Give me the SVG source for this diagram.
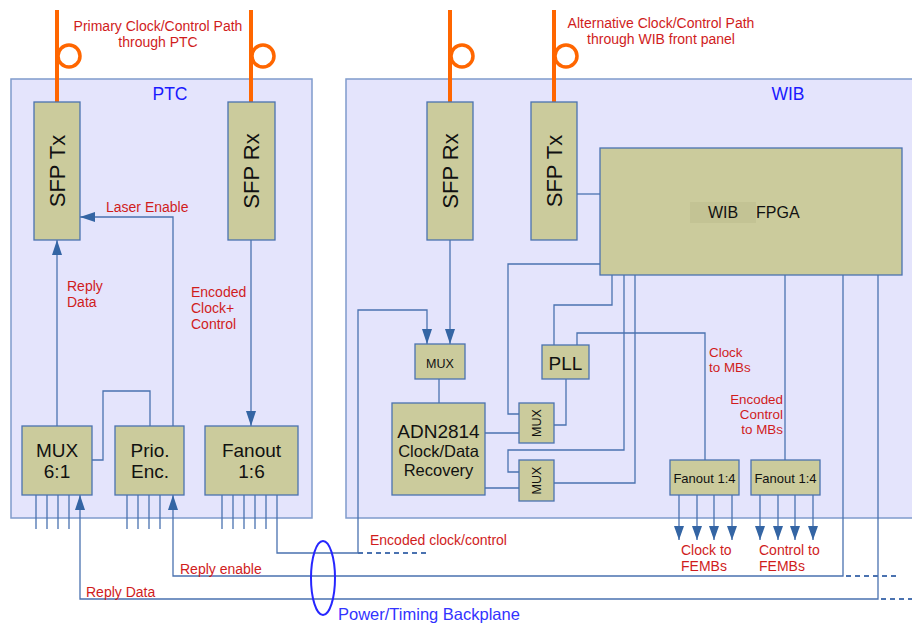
<svg xmlns="http://www.w3.org/2000/svg" width="912" height="626" viewBox="0 0 912 626">
<style>
.panel{fill:#e4e4fc;stroke:#7f9bcc;stroke-width:1.5}
.box{fill:#cbcb9c;stroke:#4a72b0;stroke-width:1.3}
.ln{fill:none;stroke:#4a72b0;stroke-width:1.3}
.dash{fill:none;stroke:#4a72b0;stroke-width:2;stroke-dasharray:5,4}
.fib{fill:none;stroke:#ff6600;stroke-width:4}
.loop{fill:none;stroke:#ff6600;stroke-width:3.5}
.red{font-family:"Liberation Sans",Arial,sans-serif;font-size:14px;fill:#d01c1c}
.sm{font-size:13.4px}
.mid{text-anchor:middle}
.end{text-anchor:end}
.blue{font-family:"Liberation Sans",Arial,sans-serif;font-size:17.5px;fill:#1a1aff;text-anchor:middle}
.t{font-family:"Liberation Sans",Arial,sans-serif;fill:#111;text-anchor:middle}
.ts{font-family:"Liberation Sans",Arial,sans-serif;fill:#111;text-anchor:start}
</style>
<defs>
<marker id="ah" markerUnits="userSpaceOnUse" markerWidth="15" markerHeight="10" refX="15" refY="5" orient="auto">
<path d="M0,0 L15,5 L0,10 z" fill="#3465a4"/>
</marker>
</defs>

<g id="panels">
<rect class="panel" x="11" y="79" width="301" height="439"/>
<rect class="panel" x="346" y="79" width="580" height="439"/>
<text class="blue" x="170" y="99.5">PTC</text>
<text class="blue" x="788" y="99.5">WIB</text>
</g>

<g id="fibers">
<line class="fib" x1="57" y1="10" x2="57" y2="102"/>
<circle class="loop" cx="69" cy="56" r="11"/>
<line class="fib" x1="251" y1="10" x2="251" y2="102"/>
<circle class="loop" cx="263" cy="56" r="11"/>
<line class="fib" x1="450" y1="10" x2="450" y2="102"/>
<circle class="loop" cx="462" cy="56" r="11"/>
<line class="fib" x1="554" y1="10" x2="554" y2="102"/>
<circle class="loop" cx="566" cy="56" r="11"/>
<text class="red mid" x="158" y="31">Primary Clock/Control Path</text>
<text class="red mid" x="158" y="47">through PTC</text>
<text class="red mid" x="661" y="28">Alternative Clock/Control Path</text>
<text class="red mid" x="661" y="44">through WIB front panel</text>
</g>

<g id="connectors">
<line class="ln" x1="57" y1="426" x2="57" y2="240" marker-end="url(#ah)"/>
<polyline class="ln" points="173,426 173,217 80,217" marker-end="url(#ah)"/>
<line class="ln" x1="251" y1="240" x2="251" y2="426" marker-end="url(#ah)"/>
<polyline class="ln" points="92,460 103,460 103,391 150,391 150,426"/>
<path class="ln" d="M36,495V529M47,495V529M58,495V529M69,495V529M127,495V529M138,495V529M149,495V529M160,495V529M222,495V529M233,495V529M244,495V529M255,495V529M266,495V529"/>
<polyline class="ln" points="277,495 277,553 358,553"/>
<polyline class="ln" points="878,275 878,599 80,599 80,495" marker-end="url(#ah)"/>
<polyline class="ln" points="843,275 843,576 173,576 173,495" marker-end="url(#ah)"/>
<line class="dash" x1="358" y1="553" x2="427" y2="553"/>
<line class="dash" x1="846" y1="576" x2="899" y2="576"/>
<line class="dash" x1="881" y1="599" x2="912" y2="599"/>
<polyline class="ln" points="358,553 358,310 427,310 427,344" marker-end="url(#ah)"/>
<line class="ln" x1="450" y1="240" x2="450" y2="344" marker-end="url(#ah)"/>
<line class="ln" x1="577" y1="194" x2="600" y2="194"/>
<line class="ln" x1="439" y1="379" x2="439" y2="403"/>
<line class="ln" x1="485" y1="433" x2="519" y2="433"/>
<line class="ln" x1="485" y1="488" x2="519" y2="488"/>
<polyline class="ln" points="600,264 508,264 508,414 519,414"/>
<polyline class="ln" points="566,379 566,425 554,425"/>
<polyline class="ln" points="554,345 554,305 612,305 612,275"/>
<polyline class="ln" points="577,345 577,333 705,333 705,460"/>
<polyline class="ln" points="624,275 624,450 508,450 508,472 519,472"/>
<polyline class="ln" points="554,483 635,483 635,275"/>
<line class="ln" x1="785" y1="275" x2="785" y2="460"/>
<path class="ln" d="M679,495V540M697,495V540M714,495V540M732,495V540M760,495V540M778,495V540M795,495V540M813,495V540"/>
<g fill="#3465a4">
<path d="M674,526h10l-5,14z"/><path d="M692,526h10l-5,14z"/><path d="M709,526h10l-5,14z"/><path d="M727,526h10l-5,14z"/>
<path d="M755,526h10l-5,14z"/><path d="M773,526h10l-5,14z"/><path d="M790,526h10l-5,14z"/><path d="M808,526h10l-5,14z"/>
</g>
<ellipse cx="323" cy="578" rx="12" ry="37" fill="none" stroke="#2626ff" stroke-width="2"/>
<text class="red" x="106" y="212">Laser Enable</text>
<text class="red" x="67" y="291">Reply</text>
<text class="red" x="67" y="307">Data</text>
<text class="red" x="191" y="297">Encoded</text>
<text class="red" x="191" y="313">Clock+</text>
<text class="red" x="191" y="328.5">Control</text>
<text class="red" x="180" y="574">Reply enable</text>
<text class="red" x="86" y="597">Reply Data</text>
<text class="red" x="370" y="545">Encoded clock/control</text>
<text class="red sm" x="709" y="356.5">Clock</text>
<text class="red sm" x="709" y="371.5">to MBs</text>
<text class="red sm end" x="783" y="403.5">Encoded</text>
<text class="red sm end" x="783" y="418.5">Control</text>
<text class="red sm end" x="783" y="433.5">to MBs</text>
<text class="red" x="681" y="555">Clock to</text>
<text class="red" x="681" y="571">FEMBs</text>
<text class="red" x="759" y="555">Control to</text>
<text class="red" x="759" y="571">FEMBs</text>
<text x="338" y="620" font-family="Liberation Sans, Arial, sans-serif" font-size="16.5" fill="#3333ff">Power/Timing Backplane</text>
</g>

<g id="ptc-sfp-tx"><rect class="box" x="34" y="102" width="46" height="138"/><text class="t" font-size="22" transform="translate(65,171) rotate(-90)">SFP Tx</text></g>
<g id="ptc-sfp-rx"><rect class="box" x="228" y="102" width="47" height="138"/><text class="t" font-size="22" transform="translate(259,171) rotate(-90)">SFP Rx</text></g>
<g id="ptc-mux"><rect class="box" x="22" y="426" width="70" height="69"/><text class="t" font-size="19" x="57" y="456.5">MUX</text><text class="t" font-size="19" x="57" y="477.5">6:1</text></g>
<g id="ptc-prio"><rect class="box" x="115" y="426" width="69" height="69"/><text class="t" font-size="19" x="150" y="456.5">Prio.</text><text class="t" font-size="19" x="150" y="477.5">Enc.</text></g>
<g id="ptc-fanout"><rect class="box" x="205" y="426" width="93" height="69"/><text class="t" font-size="19" x="251.5" y="456.5">Fanout</text><text class="t" font-size="19" x="251.5" y="477.5">1:6</text></g>

<g id="wib-sfp-rx"><rect class="box" x="427" y="102" width="46" height="138"/><text class="t" font-size="22" transform="translate(458,171) rotate(-90)">SFP Rx</text></g>
<g id="wib-sfp-tx"><rect class="box" x="531" y="102" width="46" height="138"/><text class="t" font-size="22" transform="translate(562,171) rotate(-90)">SFP Tx</text></g>
<g id="wib-fpga"><rect class="box" x="600" y="148" width="302" height="127"/><rect x="690" y="202" width="66" height="21" fill="#c3c394"/><text class="t" font-size="16" x="723" y="218">WIB</text><text class="ts" font-size="16" x="756" y="218">FPGA</text></g>
<g id="wib-mux-in"><rect class="box" x="415" y="344" width="50" height="35"/><text class="t" font-size="12.5" x="440" y="367.5">MUX</text></g>
<g id="adn2814"><rect class="box" x="392" y="403" width="93" height="92"/><text class="t" font-size="19" x="438.5" y="437.5">ADN2814</text><text class="t" font-size="16.5" x="438.5" y="457">Clock/Data</text><text class="t" font-size="16.5" x="438.5" y="476">Recovery</text></g>
<g id="pll"><rect class="box" x="542" y="345" width="47" height="34"/><text class="t" font-size="19" x="565.5" y="369.5">PLL</text></g>
<g id="wib-mux2"><rect class="box" x="519" y="403" width="35" height="40"/><text class="t" font-size="12.5" transform="translate(541,423) rotate(-90)">MUX</text></g>
<g id="wib-mux3"><rect class="box" x="519" y="460" width="35" height="41"/><text class="t" font-size="12.5" transform="translate(541,480.5) rotate(-90)">MUX</text></g>
<g id="fanout-clk"><rect class="box" x="670" y="460" width="69" height="35"/><text class="t" font-size="13" x="704.5" y="483">Fanout 1:4</text></g>
<g id="fanout-ctl"><rect class="box" x="751" y="460" width="69" height="35"/><text class="t" font-size="13" x="785.5" y="483">Fanout 1:4</text></g>
</svg>
